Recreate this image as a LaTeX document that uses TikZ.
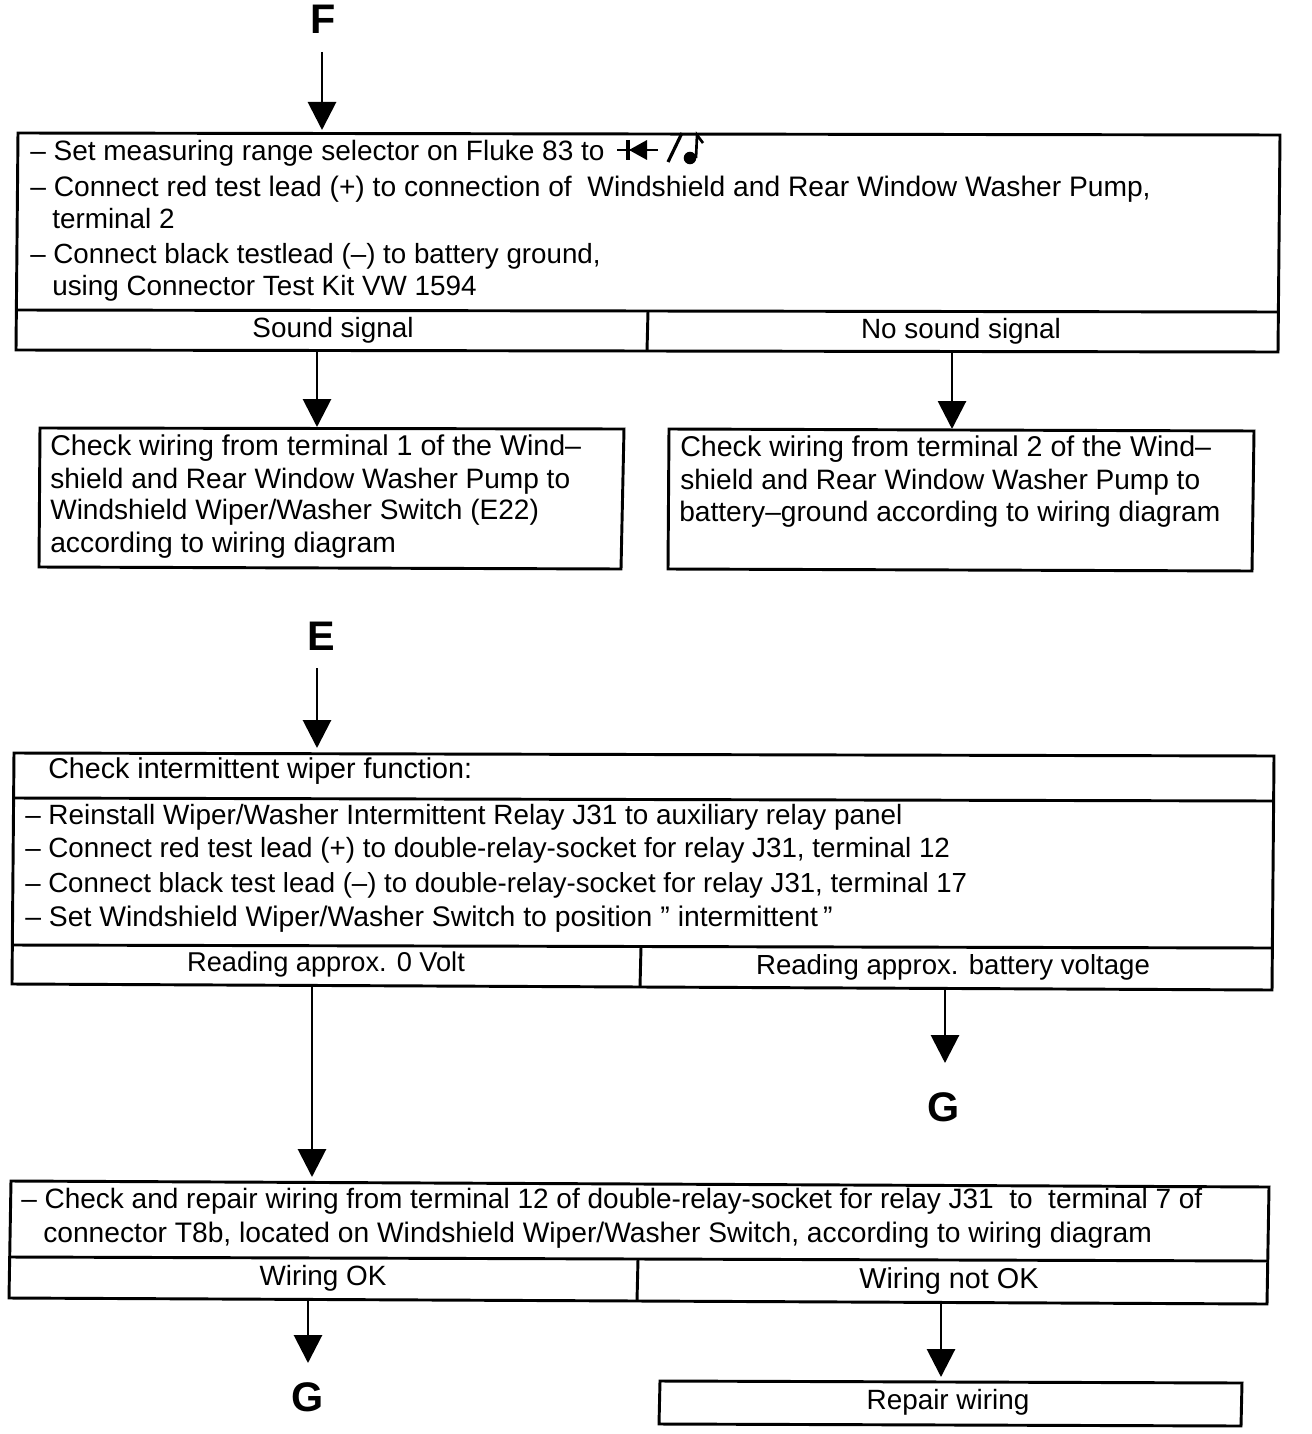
\documentclass[tikz,border=0pt]{standalone}
\usepackage{fontspec}
\setmainfont{Liberation Sans}
\usetikzlibrary{arrows.meta}
\tikzset{
 box/.style={draw=black,line width=2.2pt,fill=none,line join=miter},
 flow/.style={draw=black,line width=2.2pt,-{Triangle[length=21pt,width=21pt]}},
 sz/.style={font=\fontsize{#1}{23}\selectfont},
 txt/.style={anchor=base west,inner sep=0pt,sz=20.9},
 ctxt/.style={anchor=base,inner sep=0pt,sz=20.9},
 big/.style={anchor=base,inner sep=0pt,font=\fontsize{31}{32}\selectfont\bfseries}
}
\begin{document}
\begin{tikzpicture}[x=0.75pt,y=-0.75pt]
\useasboundingbox (0,0) rectangle (1312,1434);
\node[big] (F) at (323,34) {F};
\coordinate (f1) at (322,52);
\coordinate (f2) at (322,130);
\draw[flow] (f1) -- (f2);
\draw[box] (18,133) -- (1280,135) -- (1278,352) -- (16,350) -- cycle;
\draw[box] (17,310) -- (1279,312);
\draw[box] (648,311) -- (647,351);
\node[txt,sz=21] at (30,161) {– Set measuring range selector on Fluke 83 to};
\node[txt,sz=21.15] at (30,196) {– Connect red test lead (+) to connection of\ \ Windshield and Rear Window Washer Pump,};
\node[txt] at (52,228) {terminal 2};
\node[txt,sz=20.8] at (30,263) {– Connect black testlead (–) to battery ground,};
\node[txt] at (52,295) {using Connector Test Kit VW 1594};
\node[ctxt] at (333,337) {Sound signal};
\node[ctxt] at (961,338) {No sound signal};
\draw[line width=2.2pt] (617,150) -- (658,150);
\draw[line width=2.6pt] (628,140) -- (628,160);
\fill (629,150) -- (647,140) -- (647,160) -- cycle;
\draw[line width=2.4pt] (668,162) -- (682,133);
\fill (690,158) circle (4.7pt);
\draw[line width=2pt] (696,158) -- (697,135) -- (703,143);
\coordinate (s1) at (317,351);
\coordinate (s2) at (317,427);
\draw[flow] (s1) -- (s2);
\coordinate (n1) at (952,352);
\coordinate (n2) at (952,429);
\draw[flow] (n1) -- (n2);
\draw[box] (40,428) -- (624,429) -- (621,569) -- (39,567) -- cycle;
\node[txt,sz=21.45] at (50,455) {Check wiring from terminal 1 of the Wind–};
\node[txt,sz=21.05] at (50,488) {shield and Rear Window Washer Pump to};
\node[txt,sz=21.05] at (50,519) {Windshield Wiper/Washer Switch (E22)};
\node[txt,sz=21.2] at (50,552) {according to wiring diagram};
\draw[box] (669,429) -- (1254,431) -- (1252,571) -- (668,569) -- cycle;
\node[txt,sz=21.45] at (680,456) {Check wiring from terminal 2 of the Wind–};
\node[txt,sz=21.05] at (680,489) {shield and Rear Window Washer Pump to};
\node[txt,sz=21.1] at (679,521) {battery–ground according to wiring diagram};
\node[big] (E) at (321,650) {E};
\coordinate (e1) at (317,668);
\coordinate (e2) at (317,748);
\draw[flow] (e1) -- (e2);
\draw[box] (14,753) -- (1274,756) -- (1272,990) -- (12,984) -- cycle;
\draw[box] (14,798) -- (1274,801);
\draw[box] (13,945) -- (1272,948);
\draw[box] (641,947) -- (640,987);
\node[txt,sz=21.5] at (48,778) {Check intermittent wiper function:};
\node[txt] at (25,824) {– Reinstall Wiper/Washer Intermittent Relay J31 to auxiliary relay panel};
\node[txt,sz=20.85] at (25,857) {– Connect red test lead (+) to double-relay-socket for relay J31, terminal 12};
\node[txt,sz=20.7] at (25,892) {– Connect black test lead (–) to double-relay-socket for relay J31, terminal 17};
\node[txt,sz=21.25] at (25,926) {– Set Windshield Wiper/Washer Switch to position ”\kern6pt intermittent\kern4pt ”};
\node[ctxt,sz=20.4] at (326,971) {Reading approx. 0 Volt};
\node[ctxt,sz=20.7] at (953,974) {Reading approx. battery voltage};
\coordinate (r1) at (312,985);
\coordinate (r2) at (312,1177);
\draw[flow] (r1) -- (r2);
\coordinate (b1) at (945,988);
\coordinate (b2) at (945,1063);
\draw[flow] (b1) -- (b2);
\node[big] (G1) at (944,1121) {G};
\draw[box] (11,1181) -- (1269,1187) -- (1267,1304) -- (9,1298) -- cycle;
\draw[box] (10,1257) -- (1268,1261);
\draw[box] (638,1259) -- (637,1301);
\node[txt,sz=21] at (21,1208) {– Check and repair wiring from terminal 12 of double-relay-socket for relay J31\ \ to\ \ terminal 7 of};
\node[txt,sz=21.15] at (43,1242) {connector T8b, located on Windshield Wiper/Washer Switch, according to wiring diagram};
\node[ctxt] at (323,1285) {Wiring OK};
\node[ctxt,sz=21.6] at (949,1288) {Wiring not OK};
\coordinate (w1) at (308,1300);
\coordinate (w2) at (308,1363);
\draw[flow] (w1) -- (w2);
\coordinate (x1) at (941,1303);
\coordinate (x2) at (941,1377);
\draw[flow] (x1) -- (x2);
\node[big] (G2) at (308,1411) {G};
\draw[box] (660,1381) -- (1242,1383) -- (1241,1426) -- (659,1424) -- cycle;
\node[ctxt] at (948,1409) {Repair wiring};
\end{tikzpicture}
\end{document}
